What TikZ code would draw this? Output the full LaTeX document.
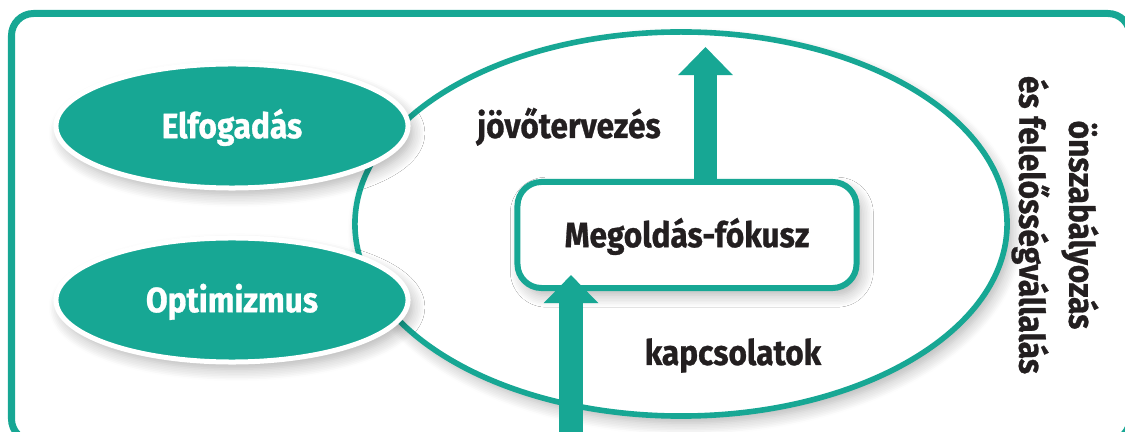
\documentclass[tikz,border=0pt]{standalone}
\usepackage{fontspec}
\setmainfont{Fira Sans}[FakeStretch=0.9, BoldFeatures={FakeBold=0.8}]
\usetikzlibrary{arrows.meta,shapes.geometric,shadows.blur}
\definecolor{sea}{RGB}{23,167,148}
\definecolor{ink}{RGB}{35,31,32}
\tikzset{
  soft/.style={blur shadow={shadow xshift=0.12cm, shadow yshift=-0.18cm,
      shadow blur radius=0.3cm, shadow blur steps=8, shadow opacity=30}},
  bubble/.style={ellipse, fill=sea, draw=white, line width=0.125cm,
      text=white, minimum width=8.8cm, minimum height=3.1cm, inner sep=0pt,
      text height=0.61cm, text depth=0cm, soft},
  flow/.style={draw=sea, line width=0.58cm,
      -{Triangle[length=0.7cm,width=1.32cm]}},
  lbl/.style={text=ink, anchor=base, inner sep=0pt}
}
\begin{document}
\begin{tikzpicture}[x=0.025cm, y=-0.025cm,
    font=\fontsize{25}{35.5}\selectfont\bfseries]
    \clip (0,0) rectangle (1125,432);
    % outer frame
    \draw[sea, line width=0.175cm, rounded corners=0.55cm]
        (11.5,13.5) rectangle (1130,441);
    % big ellipse
    \node[ellipse, draw=sea, line width=0.14cm, fill=white, inner sep=0pt,
        minimum width=16.3cm, minimum height=9.6cm, soft] (field) at (681,224) {};
    % left bubbles
    \node[bubble] (accept) at (232,126) {Elfogadás};
    \node[bubble] (hope) at (232,300) {Optimizmus};
    % centre box
    \node[draw=sea, line width=0.15cm, fill=white, rounded corners=0.6cm,
        minimum width=8.475cm, minimum height=2.65cm, text=ink,
        text height=0.61cm, text depth=0cm, soft] (focus) at (687,235) {Megoldás-fókusz};
    % arrows
    \coordinate (out) at (705.5,47);
    \coordinate (in) at (571,445);
    \path (focus.south) ++(0,-16) coordinate (tipin);
    \draw[flow] (focus.north -| out) -- (out);
    \draw[flow] (in) -- (in |- tipin);
    % labels
    \node[lbl] (plan) at (569,138) {jövőtervezés};
    \node[lbl] (ties) at (733,365) {kapcsolatok};
    \node[text=ink, rotate=-90, align=center, inner sep=0pt] (self) at (1055,225)
        {önszabályozás\\és felelősségvállalás};
\end{tikzpicture}
\end{document}
